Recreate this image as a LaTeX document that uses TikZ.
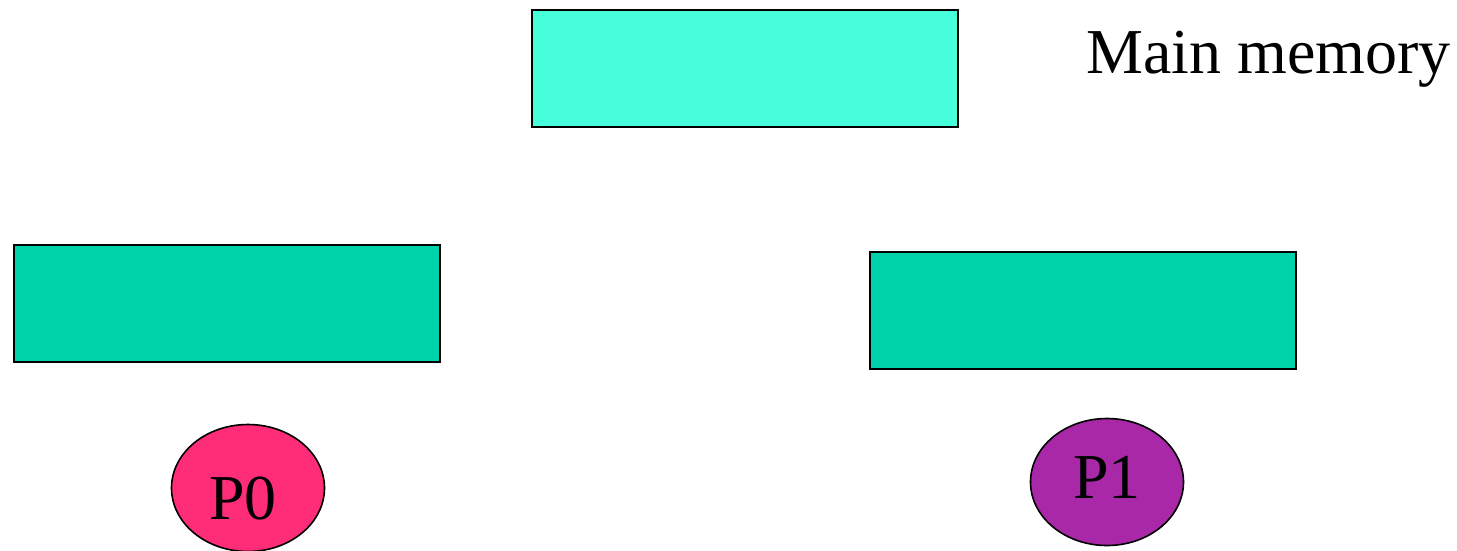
\documentclass[tikz,border=0pt]{standalone}
\usepackage{fontspec}
\setmainfont{Liberation Serif}
\usetikzlibrary{shapes.geometric}
\definecolor{memcol}{RGB}{70,255,218}
\definecolor{cachecol}{RGB}{0,210,170}
\definecolor{pzero}{RGB}{255,45,120}
\definecolor{pone}{RGB}{168,40,168}
\begin{document}
\begin{tikzpicture}[x=1pt,y=-1pt,
  membox/.style={draw=black,line width=1.6pt,fill=memcol},
  cachebox/.style={draw=black,line width=1.6pt,fill=cachecol},
  proc/.style={draw=black,line width=1.6pt,ellipse,minimum width=153pt,minimum height=127pt,inner sep=0pt},
  lbl/.style={font=\fontsize{64}{70}\selectfont}]
\useasboundingbox (0,0) rectangle (1457,550);
\begin{scope}
\clip (0,0) rectangle (1457,550);
\path[membox] (532,10) rectangle (958,127);
\path[cachebox] (14,245) rectangle (440,362);
\path[cachebox] (870,252) rectangle (1296,369);
\node[proc,fill=pzero] (p0) at (248,488) {};
\node[proc,fill=pone] (p1) at (1107,482) {};
\node[lbl] (p0t) at (243,499) {P0};
\node[lbl] (p1t) at (1107,477) {P1};
\node[lbl,anchor=west,inner sep=0pt] (mm) at (1086,59) {Main memory};
\end{scope}
\end{tikzpicture}
\end{document}
